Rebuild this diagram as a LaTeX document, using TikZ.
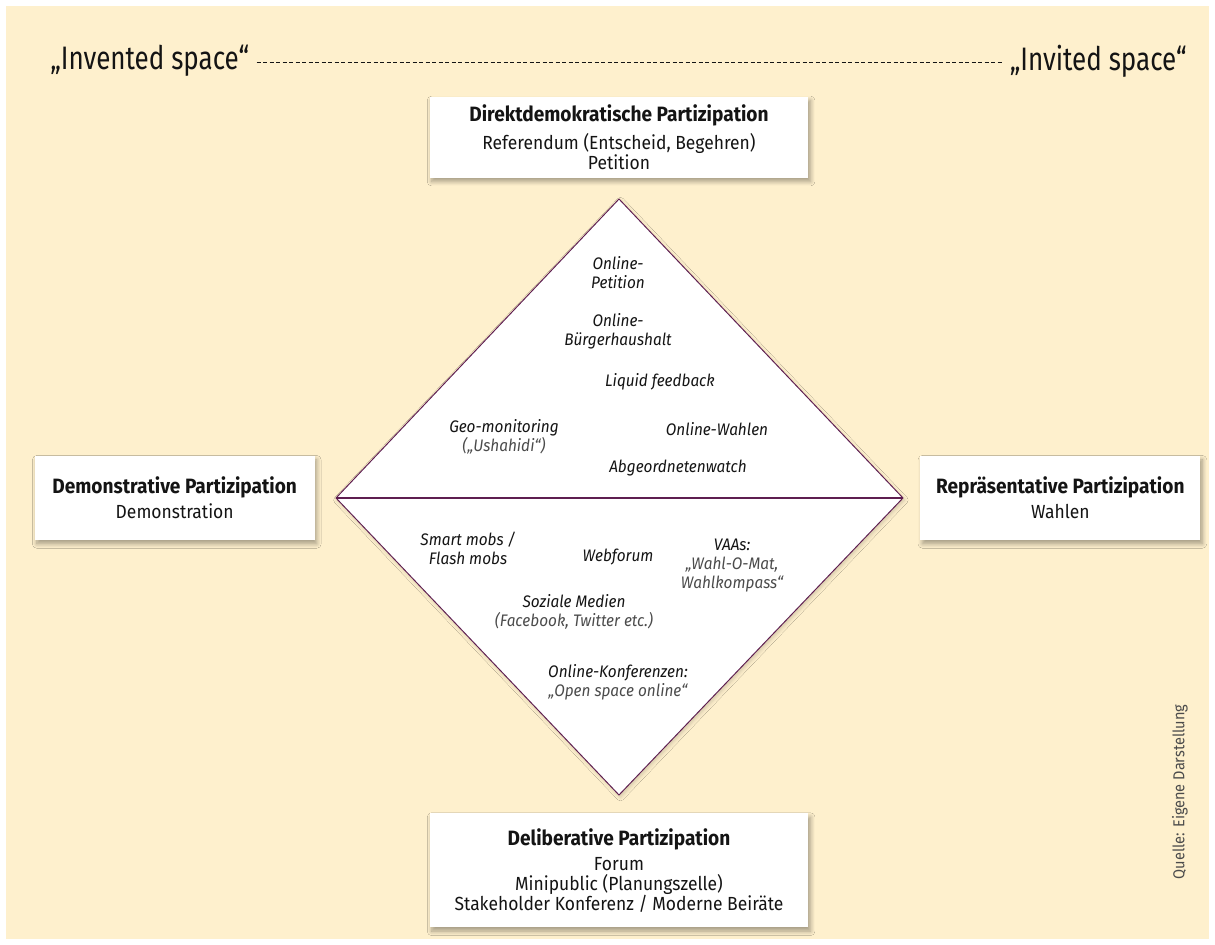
\documentclass[tikz,border=0pt]{standalone}
\usepackage{fontspec}
\setmainfont[FakeStretch=0.92]{Fira Sans}
\newfontfamily\condfont[FakeStretch=0.8]{Fira Sans}
\usetikzlibrary{positioning,shadows,shadows.blur}
\definecolor{bgcol}{RGB}{254,240,205}
\definecolor{linecol}{RGB}{94,30,80}
\definecolor{txtcol}{RGB}{20,20,20}
\definecolor{litecol}{RGB}{75,75,75}
\tikzstyle{part}=[fill=white, align=center, text=txtcol, inner sep=0pt, font=\fontsize{10.8}{11.4}\selectfont, blur shadow={shadow xshift=1.2pt, shadow yshift=-2.2pt, shadow blur steps=8, shadow blur radius=2.5pt, shadow opacity=35}]
\tikzstyle{tool}=[align=center, inner sep=0pt, text=txtcol, font=\itshape\fontsize{9.5}{10.8}\selectfont]
\tikzstyle{space}=[inner sep=0pt, text=txtcol, font=\condfont\fontsize{18.5}{21}\selectfont]
\tikzstyle{diam}=[draw=linecol, line width=0.55pt, line join=miter]

\begin{document}
\begin{tikzpicture}[x=0.02cm,y=-0.02cm]
    \useasboundingbox (0,0) rectangle (1215,945);
    \fill[bgcol] (6,6) rectangle (1209,939);
    % header line
    \node[space, anchor=west] (invented) at (50,61) {„Invented space“};
    \node[space, anchor=east] (invited) at (1187,61) {„Invited space“};
    \draw[txtcol, line width=0.45pt, dash pattern=on 2.4pt off 1.3pt] ([xshift=4pt,yshift=-1pt]invented.east) -- ([xshift=-4pt,yshift=-1pt]invited.west);
    % diamond
    \coordinate (top) at (619,199);
    \coordinate (left) at (336,498);
    \coordinate (right) at (903,498);
    \coordinate (bottom) at (619,795);
    \fill[white, blur shadow={shadow xshift=0.8pt, shadow yshift=-1.2pt, shadow blur steps=5, shadow opacity=18}] (top) -- (right) -- (bottom) -- (left) -- cycle;
    \draw[diam] (top) -- (right) -- (bottom) -- (left) -- cycle;
    \draw[linecol, line width=1.1pt] (left) -- (right);
    % the four forms
    \node[part, minimum width=7.58cm, minimum height=1.62cm, above=0.42cm of top] (direkt) {\textbf{\fontsize{11.8}{12.5}\selectfont Direktdemokratische Partizipation}\\[3pt]Referendum (Entscheid, Begehren)\\Petition};
    \node[part, minimum width=5.6cm, minimum height=1.68cm, left=0.42cm of left] (demo) {\textbf{\fontsize{11.8}{12.5}\selectfont Demonstrative Partizipation}\\[3pt]Demonstration};
    \node[part, minimum width=5.6cm, minimum height=1.68cm, right=0.34cm of right] (repr) {\textbf{\fontsize{11.8}{12.5}\selectfont Repräsentative Partizipation}\\[3pt]Wahlen};
    \node[part, minimum width=7.58cm, minimum height=2.28cm, below=0.36cm of bottom] (delib) {\textbf{\fontsize{11.8}{12.5}\selectfont Deliberative Partizipation}\\[3pt]Forum\\Minipublic (Planungszelle)\\Stakeholder Konferenz / Moderne Beiräte};
    % online tools, upper half
    \node[tool] (onlpet) at (618,272.5) {Online-\\Petition};
    \node[tool] (budget) at (618,331.5) {Online-\\Bürgerhaushalt};
    \node[tool] (liquid) at (660,382) {Liquid feedback};
    \node[tool] (geomon) at (504,437) {Geo-monitoring\\\textcolor{litecol}{(„Ushahidi“)}};
    \node[tool] (onlvote) at (717,429) {Online-Wahlen};
    \node[tool] (abgwatch) at (678,468) {Abgeordnetenwatch};
    % online tools, lower half
    \node[tool] (smartmob) at (468,548) {Smart mobs /\\Flash mobs};
    \node[tool] (webforum) at (618,557) {Webforum};
    \node[tool] (vaas) at (732,566) {VAAs:\\\textcolor{litecol}{„Wahl-O-Mat,}\\\textcolor{litecol}{Wahlkompass“}};
    \node[tool] (social) at (574,612) {Soziale Medien\\\textcolor{litecol}{(Facebook, Twitter etc.)}};
    \node[tool] (onlconf) at (618,682.5) {Online-Konferenzen:\\\textcolor{litecol}{„Open space online“}};
    % source
    \node[rotate=90, inner sep=0pt, text=litecol, font=\fontsize{9}{10}\selectfont] (quelle) at (1180,792) {Quelle: Eigene Darstellung};
\end{tikzpicture}
\end{document}
